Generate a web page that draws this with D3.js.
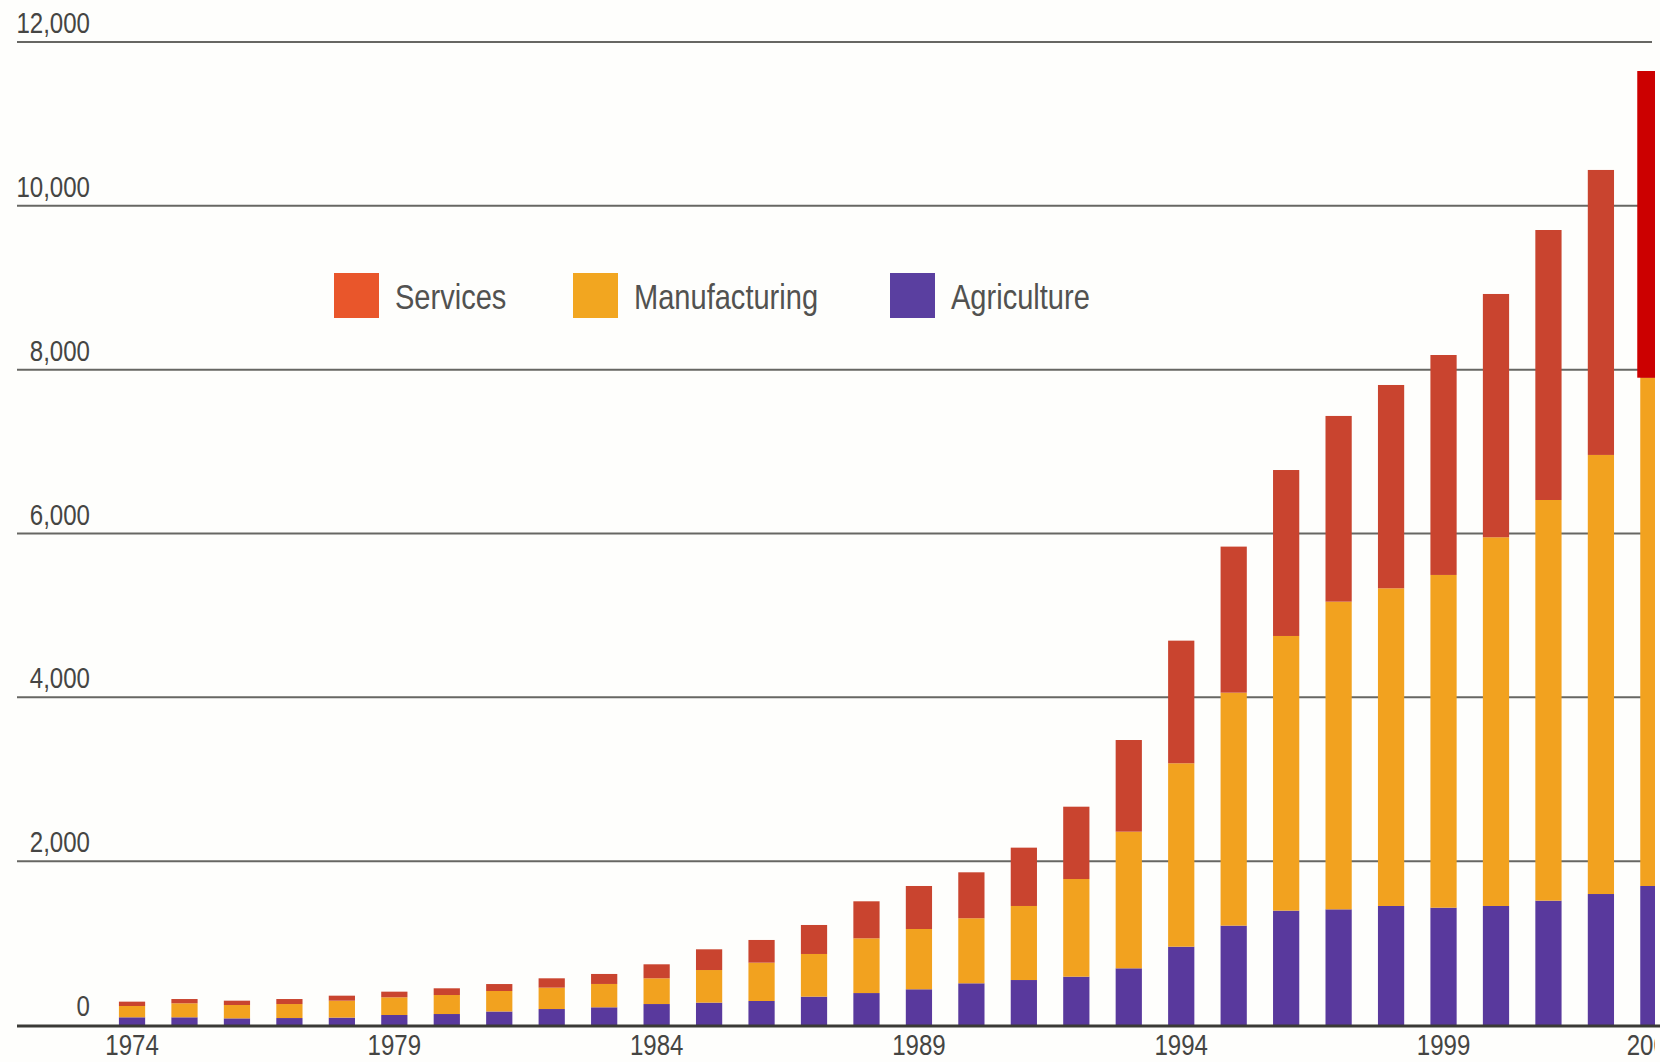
<!DOCTYPE html>
<html>
<head>
<meta charset="utf-8">
<script src="https://cdn.jsdelivr.net/npm/d3@7/dist/d3.min.js"></script>
<style>
  html, body { margin: 0; padding: 0; background: #fefefc; }
  svg { display: block; }
  text { font-family: "Liberation Sans", Arial, sans-serif; }
</style>
</head>
<body>
<svg id="chart" width="1660" height="1062"></svg>
<script>
// Output by sector, 1974–2003
const years = d3.range(1974, 2004);
const agriculture = [94, 94, 81, 85, 90, 122, 134, 165, 195, 216, 256, 273, 293, 346, 390,
  436, 509, 549, 590, 692, 956, 1213, 1396, 1412, 1453, 1432, 1453, 1518, 1599, 1697];
const manufacturing = [138, 171, 163, 171, 207, 216, 232, 250, 261, 285, 314, 398, 468, 521, 668,
  736, 794, 904, 1192, 1668, 2239, 2844, 3353, 3756, 3878, 4062, 4501, 4891, 5360, 6205];
const services = [53, 52, 53, 61, 61, 69, 82, 85, 114, 122, 171, 253, 277, 354, 452,
  525, 561, 712, 883, 1119, 1497, 1783, 2026, 2267, 2482, 2685, 2970, 3296, 3479, 3744];
const yTicks = [0, 2000, 4000, 6000, 8000, 10000, 12000];
const xTickYears = [1974, 1979, 1984, 1989, 1994, 1999, 2003];

const seriesKeys = ["agriculture", "manufacturing", "services"];
const colors = { agriculture: "#59399d", manufacturing: "#f2a21f", services: "#c9442f" };
const legendItems = [
  { key: "services", label: "Services", color: "#e9562b" },
  { key: "manufacturing", label: "Manufacturing", color: "#f2a620" },
  { key: "agriculture", label: "Agriculture", color: "#5a3fa0" }
];

const rows = years.map((yr, i) => ({
  year: yr,
  agriculture: agriculture[i],
  manufacturing: manufacturing[i],
  services: services[i]
}));

const svg = d3.select("#chart");
const plotRight = 1655;
const narrow = 0.83; // horizontal squeeze for the condensed lettering

const x = d3.scaleBand()
  .domain(years)
  .range([105.8, 1679.6])
  .paddingInner(0.5)
  .paddingOuter(0.25);

const y = d3.scaleLinear().domain([0, 12000]).range([1025, 42]);

svg.append("defs").append("clipPath").attr("id", "plotClip")
  .append("rect").attr("x", 0).attr("y", 0).attr("width", plotRight).attr("height", 1062);

// horizontal gridlines with value labels sitting above them
const grid = svg.append("g");
grid.selectAll("line")
  .data(yTicks.filter(d => d > 0))
  .join("line")
  .attr("x1", 17).attr("x2", 1652)
  .attr("y1", d => y(d)).attr("y2", d => y(d))
  .attr("stroke", "#676763").attr("stroke-width", 2);

grid.selectAll("text")
  .data(yTicks)
  .join("text")
  .attr("transform", d => `translate(90,${y(d) - 9}) scale(${narrow},1)`)
  .attr("text-anchor", "end")
  .attr("font-size", 29)
  .attr("fill", "#454543")
  .text(d => d3.format(",")(d));

// stacked bars
const stacked = d3.stack().keys(seriesKeys)(rows);
const bars = svg.append("g").attr("clip-path", "url(#plotClip)");
bars.selectAll("g")
  .data(stacked)
  .join("g")
  .attr("fill", d => colors[d.key])
  .selectAll("rect")
  .data(d => d)
  .join("rect")
  .attr("x", d => x(d.data.year))
  .attr("width", x.bandwidth())
  .attr("y", d => y(d[1]))
  .attr("height", d => y(d[0]) - y(d[1]));

// highlight over the latest year's services segment
const lastSvc = stacked[2][stacked[2].length - 1];
bars.append("rect")
  .attr("x", x(lastSvc.data.year) - 3)
  .attr("width", x.bandwidth() + 3)
  .attr("y", y(lastSvc[1]))
  .attr("height", y(lastSvc[0]) - y(lastSvc[1]))
  .attr("fill", "#cc0000");

// baseline
svg.append("line")
  .attr("x1", 17).attr("x2", 1660)
  .attr("y1", y(0) + 1).attr("y2", y(0) + 1)
  .attr("stroke", "#3a3a36").attr("stroke-width", 3);

// year labels
svg.append("g").attr("clip-path", "url(#plotClip)")
  .selectAll("text")
  .data(xTickYears)
  .join("text")
  .attr("transform", d => `translate(${x(d) + x.bandwidth() / 2},1055) scale(${narrow},1)`)
  .attr("text-anchor", "middle")
  .attr("font-size", 29)
  .attr("fill", "#454543")
  .text(d => d);

// legend
const legendX = [334, 573, 890];
const legend = svg.append("g");
const li = legend.selectAll("g")
  .data(legendItems)
  .join("g")
  .attr("transform", (d, i) => `translate(${legendX[i]},273)`);
li.append("rect")
  .attr("width", 45).attr("height", 45)
  .attr("fill", d => d.color);
li.append("text")
  .attr("transform", `translate(61,36) scale(${narrow},1)`)
  .attr("font-size", 35)
  .attr("fill", "#525250")
  .text(d => d.label);
</script>
</body>
</html>
